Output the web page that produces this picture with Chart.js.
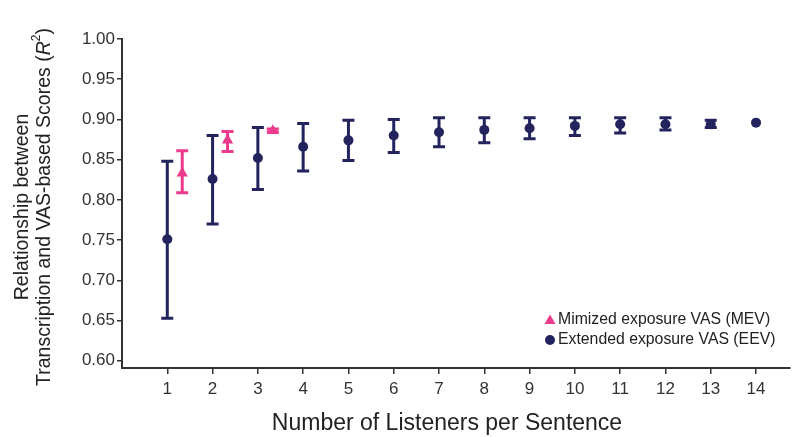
<!DOCTYPE html>
<html><head><meta charset="utf-8">
<script src="https://cdn.jsdelivr.net/npm/chart.js@4.4.1/dist/chart.umd.min.js"></script>
<style>html,body{margin:0;padding:0;background:#fff}#wrap{width:797px;height:437px}</style>
</head><body><div id="wrap"><canvas id="c" width="797" height="437"></canvas></div>
<script>
// ---- data ----
const listeners = [1,2,3,4,5,6,7,8,9,10,11,12,13,14];
const xTickLabels = ['1','2','3','4','5','6','7','8','9','10','11','12','13','14'];
const yTickValues = [0.60,0.65,0.70,0.75,0.80,0.85,0.90,0.95,1.00];
const yTickLabels = ['0.60','0.65','0.70','0.75','0.80','0.85','0.90','0.95','1.00'];

const eevMean  = [0.751,0.826,0.852,0.866,0.874,0.880,0.884,0.887,0.889,0.892,0.894,0.894,0.894,0.896];
const eevUpper = [0.848,0.880,0.890,0.895,0.899,0.900,0.902,0.902,0.902,0.902,0.902,0.902,0.899,0.896];
const eevLower = [0.653,0.770,0.813,0.836,0.849,0.859,0.866,0.871,0.876,0.880,0.883,0.887,0.890,0.896];

const mevListeners = [1,2,3];
const mevMean  = [0.833,0.874,0.886];
const mevUpper = [0.861,0.885,0.888];
const mevLower = [0.809,0.860,0.884];

const seriesNames = ['Mimized exposure VAS (MEV)','Extended exposure VAS (EEV)'];
const xTitle = 'Number of Listeners per Sentence';

// ---- styles ----
const NAVY = '#23235e';
const PINK = '#ec3a8d';
const AXIS = '#333333';
const FONT = "'Liberation Sans', Arial, sans-serif";
const MEV_OFFSET = 0.33;

const eevData = listeners.map((x,i)=>({x:x, y:eevMean[i], lo:eevLower[i], hi:eevUpper[i]}));
const mevData = mevListeners.map((x,i)=>({x:x+MEV_OFFSET, y:mevMean[i], lo:mevLower[i], hi:mevUpper[i]}));

const errorBars = {
  id:'errorBars',
  beforeDatasetsDraw(chart){
    const ctx = chart.ctx, xs = chart.scales.x, ys = chart.scales.y;
    chart.data.datasets.forEach(ds=>{
      ctx.save();
      ctx.strokeStyle = ds.borderColor;
      ctx.lineWidth = 3;
      ds.data.forEach(p=>{
        if (p.hi - p.lo < 1e-6) return;
        const px = xs.getPixelForValue(p.x);
        const yh = ys.getPixelForValue(p.hi), yl = ys.getPixelForValue(p.lo);
        ctx.beginPath();
        ctx.moveTo(px, yh); ctx.lineTo(px, yl);
        ctx.moveTo(px-6, yh); ctx.lineTo(px+6, yh);
        ctx.moveTo(px-6, yl); ctx.lineTo(px+6, yl);
        ctx.stroke();
      });
      ctx.restore();
    });
  }
};

const extras = {
  id:'extras',
  afterDraw(chart){
    const ctx = chart.ctx;
    ctx.save();
    ctx.fillStyle = '#222';
    // x title
    ctx.font = "23px " + FONT;
    ctx.textAlign = 'center'; ctx.textBaseline = 'middle';
    ctx.fillText(xTitle, 447, 424);
    // y title
    const YF = 19.5;
    ctx.font = YF + "px " + FONT;
    ctx.save();
    ctx.translate(23, 207); ctx.rotate(-Math.PI/2);
    ctx.fillText('Relationship between', 0, 0);
    ctx.restore();
    ctx.save();
    ctx.translate(45, 207); ctx.rotate(-Math.PI/2);
    const p1 = 'Transcription and VAS-based Scores (';
    const pR = 'R';
    const p2 = ')';
    ctx.font = YF + "px " + FONT;
    const w1 = ctx.measureText(p1).width;
    ctx.font = "italic " + YF + "px " + FONT;
    const wR = ctx.measureText(pR).width;
    ctx.font = "12px " + FONT;
    const wS = ctx.measureText('2').width;
    ctx.font = YF + "px " + FONT;
    const w2 = ctx.measureText(p2).width;
    const tot = w1 + wR + wS + w2;
    let x = -tot/2;
    ctx.textAlign = 'left';
    ctx.fillText(p1, x, 0); x += w1;
    ctx.font = "italic " + YF + "px " + FONT; ctx.fillText(pR, x, 0); x += wR;
    ctx.font = "12px " + FONT; ctx.fillText('2', x, -8); x += wS;
    ctx.font = YF + "px " + FONT; ctx.fillText(p2, x, 0);
    ctx.restore();
    // legend
    ctx.font = "15.8px " + FONT;
    ctx.textAlign = 'left'; ctx.textBaseline = 'middle';
    ctx.fillStyle = PINK;
    ctx.beginPath();
    ctx.moveTo(550, 314.5); ctx.lineTo(555.5, 324); ctx.lineTo(544.5, 324); ctx.closePath(); ctx.fill();
    ctx.fillStyle = '#222';
    ctx.fillText(seriesNames[0], 558, 320);
    ctx.fillStyle = NAVY;
    ctx.beginPath(); ctx.arc(550, 340, 5, 0, Math.PI*2); ctx.fill();
    ctx.fillStyle = '#222';
    ctx.fillText(seriesNames[1], 558, 340);
    ctx.restore();
  }
};

new Chart(document.getElementById('c'), {
  type:'scatter',
  data:{ datasets:[
    {label:seriesNames[0], data:mevData, pointStyle:'triangle', radius:6.5, hoverRadius:6.5,
     backgroundColor:PINK, borderColor:PINK, borderWidth:0},
    {label:seriesNames[1], data:eevData, pointStyle:'circle', radius:5, hoverRadius:5,
     backgroundColor:NAVY, borderColor:NAVY, borderWidth:0}
  ]},
  options:{
    responsive:false, animation:false,
    layout:{padding:{top:39, right:7, left:0, bottom:0}},
    plugins:{legend:{display:false}, tooltip:{enabled:false}},
    scales:{
      x:{type:'linear', min:0, max:14.75,
        afterBuildTicks(s){ s.ticks = listeners.map(v=>({value:v})); },
        afterFit(s){ s.height = 69; },
        grid:{display:true, drawOnChartArea:false, drawTicks:true, tickLength:6, color:AXIS, lineWidth:1.5},
        border:{display:true, color:AXIS, width:2},
        ticks:{padding:5, color:'#333', font:{family:FONT, size:17}, maxRotation:0,
          callback:(v,i)=>xTickLabels[i]}
      },
      y:{type:'linear', min:0.591, max:1.0,
        afterBuildTicks(s){ s.ticks = yTickValues.map(v=>({value:v})); },
        afterFit(s){ s.width = 122; },
        grid:{display:true, drawOnChartArea:false, drawTicks:true, tickLength:5, color:AXIS, lineWidth:1.5},
        border:{display:true, color:AXIS, width:2},
        ticks:{padding:2, color:'#333', font:{family:FONT, size:17},
          callback:(v,i)=>yTickLabels[i]}
      }
    }
  },
  plugins:[errorBars, extras]
});
</script></body></html>
